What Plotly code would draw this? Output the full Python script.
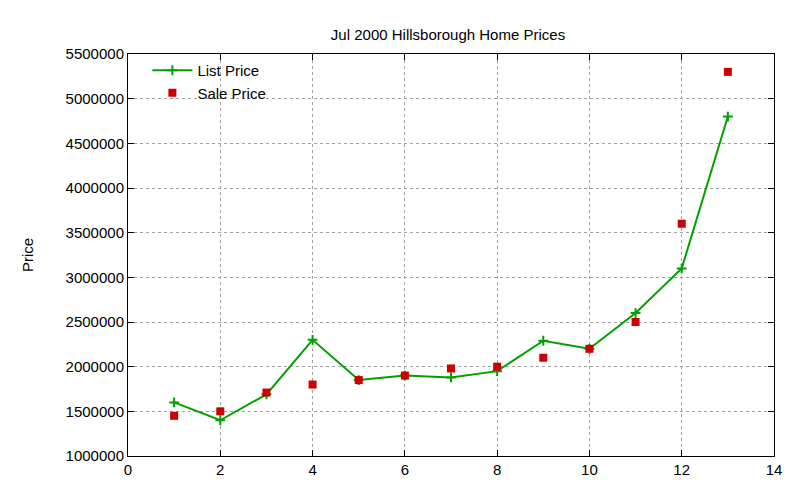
import plotly.graph_objects as go

x = list(range(1, 14))
list_price = [1600000, 1400000, 1690000, 2300000, 1850000, 1900000, 1880000,
              1950000, 2290000, 2200000, 2600000, 3100000, 4800000]
sale_price = [1450000, 1500000, 1710000, 1800000, 1850000, 1900000, 1980000,
              2000000, 2100000, 2200000, 2500000, 3600000, 5300000]

fig = go.Figure()
fig.add_trace(go.Scatter(x=x, y=list_price, mode="lines+markers", name="List Price",
                         line=dict(color="#00a000", width=2),
                         marker=dict(symbol="cross-thin", size=7, line=dict(color="#00a000", width=2))))
fig.add_trace(go.Scatter(x=x, y=sale_price, mode="markers", name="Sale Price",
                         marker=dict(symbol="square", size=8, color="#cc0000")))

axis = dict(showline=True, linecolor="black", linewidth=1, mirror="ticks", ticks="inside",
            ticklen=6, tickcolor="black", showgrid=True, gridcolor="#a0a0a0", griddash="dot",
            zeroline=False, automargin=False,
            tickfont=dict(family="Liberation Sans, Arial", size=15, color="black"))
fig.update_xaxes(range=[0, 14], dtick=2, **axis)
fig.update_yaxes(range=[1000000, 5500000], dtick=500000, tickformat="d",
                 title=dict(text="Price", font=dict(family="Liberation Sans, Arial", size=15, color="black"), standoff=28), **axis)
fig.update_layout(
    width=800, height=480, plot_bgcolor="white", paper_bgcolor="white",
    margin=dict(l=120, r=34, t=46, b=32),
    title=dict(text="Jul 2000 Hillsborough Home Prices", x=0.55, y=0.955, xanchor="center",
               automargin=False,
               font=dict(family="Liberation Sans, Arial", size=15, color="black")),
    legend=dict(x=0.03, y=1.0, xanchor="left", yanchor="top", bgcolor="rgba(0,0,0,0)",
                font=dict(family="Liberation Sans, Arial", size=15, color="black"),
                tracegroupgap=0, itemwidth=40),
    font=dict(family="Liberation Sans, Arial"),
)
fig.write_html("out.html")
